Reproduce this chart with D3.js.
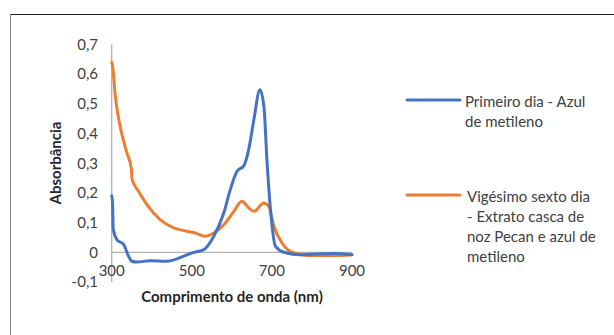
<!DOCTYPE html>
<html>
<head>
<meta charset="utf-8">
<script src="https://cdn.jsdelivr.net/npm/d3@7"></script>
<style>
  body { margin: 0; background: #fff; }
  svg { display: block; font-family: Lato, "Open Sans", sans-serif; }
</style>
</head>
<body>
<svg></svg>
<script>
// wavelength (nm) / absorbance
const blueWl = [300, 302, 304, 313, 330, 342, 350, 363, 396, 438, 480, 505, 530, 555, 580, 596, 613, 630, 642, 655, 670, 680, 688, 698, 709, 730, 771, 854, 900];
const blueAbs = [0.19, 0.17, 0.077, 0.043, 0.026, -0.013, -0.03, -0.033, -0.028, -0.03, -0.013, 0, 0.009, 0.054, 0.133, 0.211, 0.273, 0.292, 0.346, 0.447, 0.548, 0.492, 0.302, 0.121, 0.02, 0, -0.008, -0.004, -0.008];

const orangeWl = [300, 302, 309, 321, 338, 349, 351, 367, 388, 421, 455, 488, 513, 534, 555, 580, 605, 625, 642, 655, 680, 692, 705, 725, 746, 788, 854, 900];
const orangeAbs = [0.64, 0.63, 0.526, 0.425, 0.335, 0.282, 0.245, 0.206, 0.161, 0.11, 0.082, 0.071, 0.063, 0.054, 0.065, 0.093, 0.138, 0.172, 0.15, 0.138, 0.166, 0.155, 0.088, 0.032, 0.003, -0.011, -0.011, -0.008];

const yTicks = [-0.1, 0, 0.1, 0.2, 0.3, 0.4, 0.5, 0.6, 0.7];
const xTicks = [300, 500, 700, 900];

const seriesNames = ['Primeiro dia - Azul de metileno',
  'Vigésimo sexto dia - Extrato casca de noz Pecan e azul de metileno'];
const legendLines = [['Primeiro dia - Azul', 'de metileno'],
  ['Vigésimo sexto dia', '- Extrato casca de', 'noz Pecan e azul de', 'metileno']];
const colors = ['#4472C4', '#ED7D31'];

const W = 614, H = 335;
const FS = 15;
const svg = d3.select('svg').attr('width', W).attr('height', H);

// chart frame (only top and left edges visible)
svg.append('line').attr('x1', 10.5).attr('x2', W).attr('y1', 14.5).attr('y2', 14.5)
   .attr('stroke', '#222').attr('stroke-width', 1);
svg.append('line').attr('x1', 10.5).attr('x2', 10.5).attr('y1', 14.5).attr('y2', H)
   .attr('stroke', '#888').attr('stroke-width', 1);

const x = d3.scaleLinear().domain([300, 900]).range([111.7, 352]);
const y = d3.scaleLinear().domain([-0.1, 0.7]).range([282, 44.5]);

const fmt = d => d3.format('.1f')(d).replace('.', ',').replace('−', '-');

// y axis
svg.append('line').attr('x1', x(300)).attr('x2', x(300)).attr('y1', y(0.7)).attr('y2', y(-0.1))
   .attr('stroke', '#b0b0b0').attr('stroke-width', 1.3);
svg.append('g').selectAll('text').data(yTicks).join('text')
   .attr('x', 98).attr('y', d => y(d)).attr('dy', '0.35em')
   .attr('text-anchor', 'end').attr('font-size', FS).attr('fill', '#404040')
   .text(d => d === 0 ? '0' : fmt(d));

// x axis at zero
svg.append('line').attr('x1', x(300)).attr('x2', x(900)).attr('y1', y(0)).attr('y2', y(0))
   .attr('stroke', '#b0b0b0').attr('stroke-width', 1.3);
svg.append('g').selectAll('text').data(xTicks).join('text')
   .attr('x', d => x(d)).attr('y', 271).attr('dy', '0.35em')
   .attr('text-anchor', 'middle').attr('font-size', FS).attr('fill', '#404040')
   .text(d => d);

// axis titles
svg.append('text').attr('x', 232).attr('y', 297).attr('dy', '0.35em')
   .attr('text-anchor', 'middle').attr('font-size', FS).attr('font-weight', 'bold')
   .attr('fill', '#262626').text('Comprimento de onda (nm)');
svg.append('text').attr('transform', 'translate(56,163) rotate(-90)').attr('dy', '0.35em')
   .attr('text-anchor', 'middle').attr('font-size', FS).attr('font-weight', 'bold')
   .attr('fill', '#262626').text('Absorbância');

// series
const series = [d3.zip(blueWl, blueAbs), d3.zip(orangeWl, orangeAbs)];
const line = d3.line().x(d => x(d[0])).y(d => y(d[1])).curve(d3.curveMonotoneX);
svg.append('g').selectAll('path').data([series[1], series[0]]).join('path')
   .attr('d', line).attr('fill', 'none')
   .attr('stroke', (d, i) => colors[1 - i]).attr('stroke-width', 3)
   .attr('stroke-linejoin', 'round').attr('stroke-linecap', 'round');

// legend
const legY = [100, 195];
const leg = svg.append('g').selectAll('g').data(seriesNames).join('g');
leg.append('line').attr('x1', 407).attr('x2', 460)
   .attr('y1', (d, i) => legY[i]).attr('y2', (d, i) => legY[i])
   .attr('stroke', (d, i) => colors[i]).attr('stroke-width', 3).attr('stroke-linecap', 'round');
leg.each(function(d, i) {
  d3.select(this).selectAll('text').data(legendLines[i]).join('text')
    .attr('x', i === 0 ? 465 : 467).attr('y', (t, j) => legY[i] + 2 + j * 20).attr('dy', '0.35em')
    .attr('font-size', FS).attr('fill', '#404040').text(t => t);
});
</script>
</body>
</html>
